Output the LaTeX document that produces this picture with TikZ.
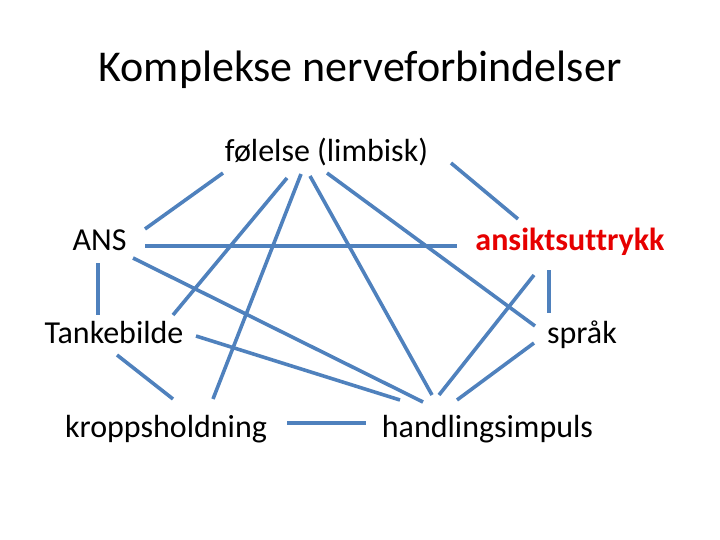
\documentclass[tikz,border=0pt]{standalone}
\usepackage{fontspec}
\setmainfont[Ligatures=NoCommon]{Carlito}
\definecolor{linkblue}{RGB}{79,129,189}
\definecolor{redtxt}{RGB}{230,0,0}
\begin{document}
\begin{tikzpicture}[x=1pt,y=-1pt,
  lbl/.style={anchor=base,inner sep=0pt,font=\fontsize{32}{38}\selectfont},
  link/.style={draw=linkblue,line width=3.6pt}]
\useasboundingbox (0,0) rectangle (720,540);
\node[anchor=base,inner sep=0pt,font=\fontsize{44}{52}\selectfont] (title) at (360,82) {Komplekse nerveforbindelser};
\node[lbl] (fol) at (326.5,162) {følelse (limbisk)};
\node[lbl] (ans) at (99.5,250) {ANS};
\node[lbl,text=redtxt,font=\fontsize{32}{38}\selectfont\bfseries] (ansikt) at (570,250) {ansiktsuttrykk};
\node[lbl] (tanke) at (114,343) {Tankebilde};
\node[lbl] (sprak) at (582,343) {språk};
\node[lbl] (kropp) at (166,437) {kroppsholdning};
\node[lbl] (handl) at (487.5,437) {handlingsimpuls};
% endpoints
\coordinate (f1) at (223,173); \coordinate (a1) at (145,229);
\coordinate (f2) at (287,178); \coordinate (t2) at (173,315);
\coordinate (f3) at (301,174); \coordinate (k3) at (213,399);
\coordinate (f4) at (310,176); \coordinate (h4) at (432,395);
\coordinate (f5) at (327,173); \coordinate (s5) at (535,326);
\coordinate (f6) at (451,163); \coordinate (u6) at (518,219);
\coordinate (a7) at (145,246); \coordinate (u7) at (457,246);
\coordinate (a8) at (133,258); \coordinate (h8) at (423,402);
\coordinate (a9) at (98,263);  \coordinate (t9) at (98,315);
\coordinate (t10) at (196,336); \coordinate (h10) at (400,400);
\coordinate (t11) at (117,355); \coordinate (k11) at (173,399);
\coordinate (k12) at (287,423); \coordinate (h12) at (366,423);
\coordinate (u13) at (549,270); \coordinate (s13) at (549,313);
\coordinate (u14) at (534,275); \coordinate (h14) at (439,395);
\coordinate (s15) at (534,343); \coordinate (h15) at (457,400);
\draw[link] (f1) -- (a1);
\draw[link] (f2) -- (t2);
\draw[link] (f3) -- (k3);
\draw[link] (f4) -- (h4);
\draw[link] (f5) -- (s5);
\draw[link] (f6) -- (u6);
\draw[link] (a7) -- (u7);
\draw[link] (a8) -- (h8);
\draw[link] (a9) -- (t9);
\draw[link] (t10) -- (h10);
\draw[link] (t11) -- (k11);
\draw[link] (k12) -- (h12);
\draw[link] (u13) -- (s13);
\draw[link] (u14) -- (h14);
\draw[link] (s15) -- (h15);
\end{tikzpicture}
\end{document}
